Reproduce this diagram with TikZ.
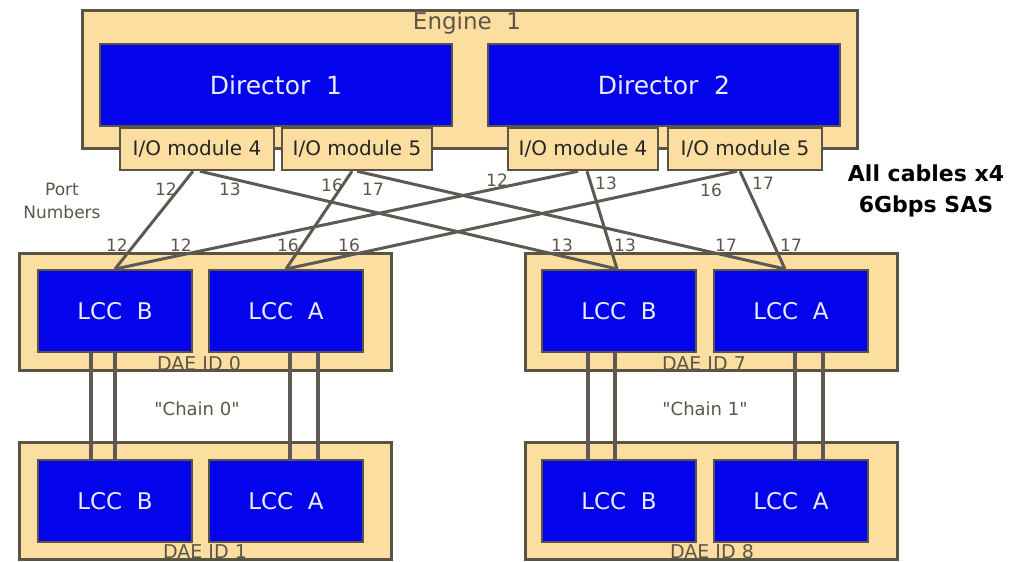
\documentclass[tikz,border=0pt]{standalone}
\usepackage{fontspec}
\setmainfont{DejaVu Sans}
\newfontfamily\plainquotes{DejaVu Sans}[Ligatures=TeXOff]
\definecolor{tanfill}{RGB}{252,222,160}
\definecolor{chipblue}{RGB}{4,4,236}
\definecolor{edgegray}{RGB}{88,84,70}
\definecolor{labelgray}{RGB}{92,86,72}
\definecolor{cablegray}{RGB}{92,90,82}
\begin{document}
\begin{tikzpicture}[x=1pt,y=-1pt,
  tanbox/.style={rectangle, draw=edgegray, line width=3pt, fill=tanfill, inner sep=0pt},
  iobox/.style={tanbox, line width=2.5pt, text=black!85, font=\fontsize{20}{22}\selectfont},
  bluebox/.style={rectangle, draw=edgegray, line width=2pt, fill=chipblue, inner sep=0pt,
                  text=white!92!blue, font=\fontsize{23}{26}\selectfont},
  dirbox/.style={bluebox, font=\fontsize{25}{28}\selectfont},
  txt/.style={inner sep=0pt, text=labelgray},
  port/.style={txt, font=\fontsize{17}{19}\selectfont},
  daeid/.style={txt, font=\fontsize{19}{21}\selectfont},
  chainlabel/.style={txt, font=\plainquotes\fontsize{18}{20}\selectfont},
  cableline/.style={draw=cablegray, line width=3pt},
  chainline/.style={draw=cablegray, line width=3.5pt}]
\path[use as bounding box] (0,0) rectangle (1017,562);

% ---------- engine with its two directors ----------
\node[tanbox, minimum width=775, minimum height=138] (engine) at (469.5,79) {};
\node[txt, font=\fontsize{23}{25}\selectfont] (enginetxt) at (467,23) {Engine\ \ 1};
\node[dirbox, minimum width=352, minimum height=82] (dir1) at (276,85) {Director\ \ 1};
\node[dirbox, minimum width=352, minimum height=82] (dir2) at (664,85) {Director\ \ 2};

\node[iobox, minimum width=154, minimum height=42] (io14) at (197,149) {I/O module 4};
\node[iobox, minimum width=150, minimum height=42] (io15) at (357,149) {I/O module 5};
\node[iobox, minimum width=150, minimum height=42] (io24) at (583,149) {I/O module 4};
\node[iobox, minimum width=154, minimum height=42] (io25) at (745,149) {I/O module 5};

% ---------- disk array enclosures ----------
\node[tanbox, minimum width=372, minimum height=117] (dae0) at (205,311.5) {};
\node[tanbox, minimum width=372, minimum height=117] (dae1) at (205,501) {};
\node[tanbox, minimum width=372, minimum height=117] (dae7) at (711,311.5) {};
\node[tanbox, minimum width=372, minimum height=117] (dae8) at (711,501) {};

\node[bluebox, minimum width=154, minimum height=82] (lccB0) at (115,311) {LCC\ \ B};
\node[bluebox, minimum width=154, minimum height=82] (lccA0) at (286,311) {LCC\ \ A};
\node[bluebox, minimum width=154, minimum height=82] (lccB1) at (115,501) {LCC\ \ B};
\node[bluebox, minimum width=154, minimum height=82] (lccA1) at (286,501) {LCC\ \ A};
\node[bluebox, minimum width=154, minimum height=82] (lccB7) at (619,311) {LCC\ \ B};
\node[bluebox, minimum width=154, minimum height=82] (lccA7) at (791,311) {LCC\ \ A};
\node[bluebox, minimum width=154, minimum height=82] (lccB8) at (619,501) {LCC\ \ B};
\node[bluebox, minimum width=154, minimum height=82] (lccA8) at (791,501) {LCC\ \ A};

\node[daeid] (id0) at (199,364) {DAE ID 0};
\node[daeid] (id1) at (205,552) {DAE ID 1};
\node[daeid] (id7) at (704,364) {DAE ID 7};
\node[daeid] (id8) at (712,552) {DAE ID 8};

\node[chainlabel] (chain0) at (197,409) {"Chain 0"};
\node[chainlabel] (chain1) at (705,409) {"Chain 1"};

% ---------- daisy-chain links between enclosures ----------
\draw[chainline] ([xshift=-24]lccB0.south) -- ([xshift=-24]lccB1.north);
\draw[chainline] ([xshift=0]lccB0.south) -- ([xshift=0]lccB1.north);
\draw[chainline] ([xshift=4]lccA0.south) -- ([xshift=4]lccA1.north);
\draw[chainline] ([xshift=32]lccA0.south) -- ([xshift=32]lccA1.north);
\draw[chainline] ([xshift=-31]lccB7.south) -- ([xshift=-31]lccB8.north);
\draw[chainline] ([xshift=-4]lccB7.south) -- ([xshift=-4]lccB8.north);
\draw[chainline] ([xshift=4]lccA7.south) -- ([xshift=4]lccA8.north);
\draw[chainline] ([xshift=32]lccA7.south) -- ([xshift=32]lccA8.north);

% ---------- SAS cables from the I/O modules ----------
\draw[cableline] ([xshift=-4]io14.south) -- (lccB0.north);
\draw[cableline] ([xshift=3]io14.south) -- ([xshift=-2]lccB7.north);
\draw[cableline] ([xshift=-5]io15.south) -- (lccA0.north);
\draw[cableline] ([xshift=0]io15.south) -- ([xshift=-6]lccA7.north);
\draw[cableline] ([xshift=-5]io24.south) -- (lccB0.north);
\draw[cableline] ([xshift=4]io24.south) -- ([xshift=-2]lccB7.north);
\draw[cableline] ([xshift=-8]io25.south) -- (lccA0.north);
\draw[cableline] ([xshift=-5]io25.south) -- ([xshift=-6]lccA7.north);

% ---------- port numbers ----------
\node[port] (t1) at (166,189) {12};
\node[port] (t2) at (230,189) {13};
\node[port] (t3) at (332,185) {16};
\node[port] (t4) at (373,189) {17};
\node[port] (t5) at (497,180) {12};
\node[port] (t6) at (606,183) {13};
\node[port] (t7) at (711,190) {16};
\node[port] (t8) at (763,183) {17};

\node[port] (b1) at (117,245) {12};
\node[port] (b2) at (181,245) {12};
\node[port] (b3) at (288,245) {16};
\node[port] (b4) at (349,245) {16};
\node[port] (b5) at (562,245) {13};
\node[port] (b6) at (625,245) {13};
\node[port] (b7) at (726,245) {17};
\node[port] (b8) at (791,245) {17};

\node[port, align=center, font=\fontsize{17}{23}\selectfont] (portnum) at (62,201) {Port\\Numbers};

\node[inner sep=0pt, align=center, text=black, font=\bfseries\fontsize{22}{31}\selectfont] (note) at (926,191) {All cables x4\\6Gbps SAS};
\end{tikzpicture}
\end{document}
